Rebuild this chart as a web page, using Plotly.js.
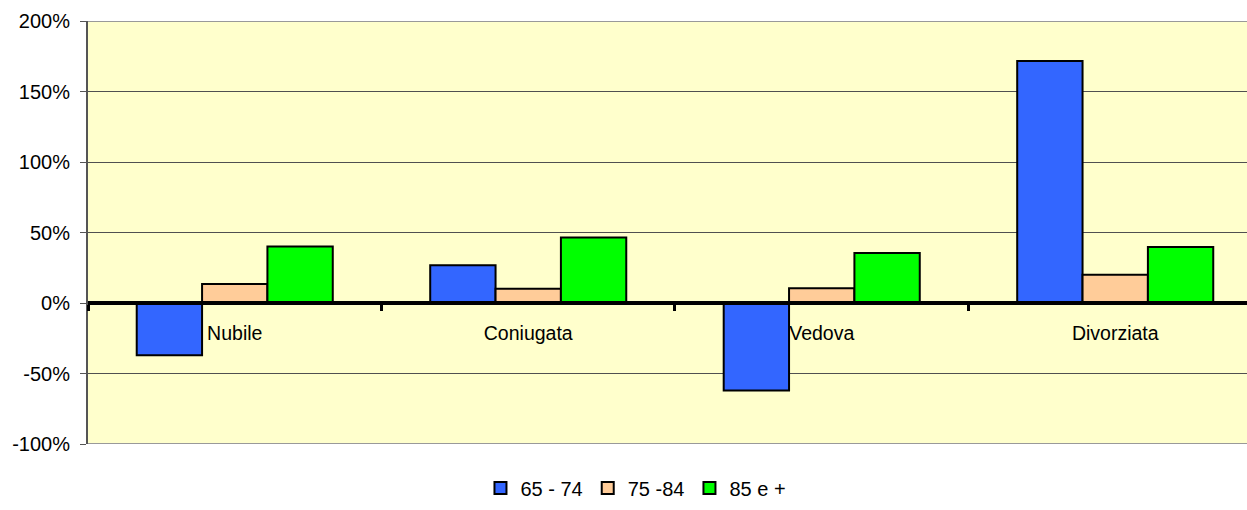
<!DOCTYPE html>
<html>
<head>
<meta charset="utf-8">
<script src="https://cdn.plot.ly/plotly-3.0.1.min.js"></script>
<style>
  html, body { margin: 0; padding: 0; background: #ffffff; }
  #chart { width: 1247px; height: 510px; }
</style>
</head>
<body>
<div id="chart"></div>
<script>
const categories = ["Nubile", "Coniugata", "Vedova", "Divorziata"];
const seriesNames = ["65 - 74", "75 -84", "85 e +"];
const values6574 = [-37, 26.7, -62, 171.7];
const values7584 = [13.5, 10.1, 10.4, 20.1];
const values85 = [40.1, 46.5, 35.4, 39.7];
const yTickVals = [-100, -50, 0, 50, 100, 150, 200];
const yTickText = ["-100%", "-50%", "0%", "50%", "100%", "150%", "200%"];

const colors = ["#3366FF", "#FFCC99", "#00FF00"];
const seriesValues = [values6574, values7584, values85];

const FONT = "Liberation Sans, Arial, sans-serif";

const traces = seriesValues.map((vals, i) => ({
  type: "bar",
  name: seriesNames[i],
  x: categories,
  y: vals,
  marker: { color: colors[i], line: { color: "#000000", width: 2 } },
  hoverinfo: "skip"
}));

const layout = {
  width: 1247,
  height: 510,
  margin: { l: 88, r: 0, t: 21, b: 66, pad: 0, autoexpand: false },
  paper_bgcolor: "#ffffff",
  plot_bgcolor: "#FFFFCC",
  font: { family: FONT, size: 19, color: "#000000" },
  barmode: "group",
  bargap: 0.332,
  bargroupgap: 0,
  showlegend: true,
  legend: {
    orientation: "h",
    xref: "container",
    yref: "container",
    x: 0.51, xanchor: "center",
    y: 0.005, yanchor: "bottom",
    font: { family: FONT, size: 20, color: "#000000" },
    itemwidth: 30,
    tracegroupgap: 0,
    traceorder: "normal",
    bgcolor: "rgba(0,0,0,0)"
  },
  xaxis: {
    type: "category",
    range: [-0.5, 3.449],
    anchor: "free",
    position: 1 / 3,
    showline: true,
    linecolor: "#000000",
    linewidth: 4,
    showgrid: false,
    zeroline: false,
    ticks: "outside",
    tickson: "boundaries",
    ticklen: 6,
    tickwidth: 3,
    tickcolor: "#000000",
    ticklabelstandoff: 12,
    tickfont: { family: FONT, size: 19.5, color: "#000000" },
    fixedrange: true
  },
  yaxis: {
    range: [-100, 200],
    domain: [0, 1],
    tickmode: "array",
    tickvals: yTickVals,
    ticktext: yTickText,
    showgrid: true,
    gridcolor: "#505050",
    gridwidth: 1,
    zeroline: false,
    showline: true,
    linecolor: "#555555",
    linewidth: 2,
    ticks: "outside",
    ticklen: 6,
    tickwidth: 1,
    tickcolor: "#555555",
    ticklabelstandoff: 6,
    tickfont: { family: FONT, size: 20, color: "#000000" },
    fixedrange: true
  },
  shapes: [
    { type: "line", xref: "paper", yref: "y", x0: 0, x1: 1.02, y0: 200, y1: 200,
      line: { color: "#999999", width: 2 } },
    { type: "line", xref: "paper", yref: "y", x0: 0, x1: 1.02, y0: -100, y1: -100,
      line: { color: "#999999", width: 2 } }
  ]
};

Plotly.newPlot("chart", traces, layout, { displayModeBar: false, staticPlot: true });
</script>
</body>
</html>
